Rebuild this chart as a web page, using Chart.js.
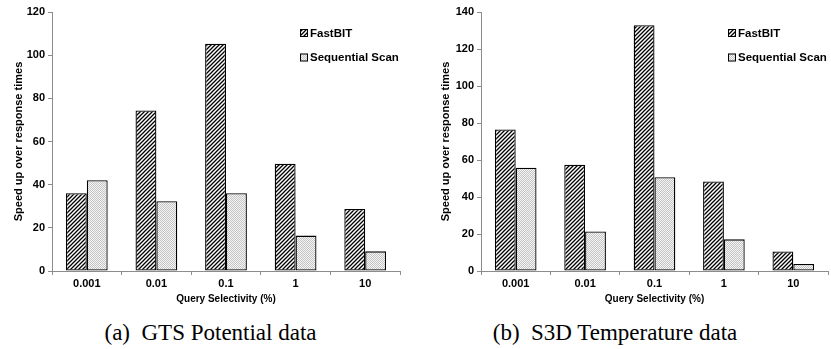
<!DOCTYPE html>
<html>
<head>
<meta charset="utf-8">
<script src="https://cdn.jsdelivr.net/npm/chart.js@4/dist/chart.umd.min.js"></script>
<style>
  body { margin: 0; background: #fff; width: 831px; height: 349px; overflow: hidden; }
  .panel { position: absolute; top: 0; height: 349px; }
  .cap { position: absolute; top: 320px; width: 100%; text-align: center; line-height: 26px;
         font-family: "Liberation Serif", "Times New Roman", serif; font-size: 23px; color: #000; }
</style>
</head>
<body>
<div class="panel" style="left:0;width:415px">
  <canvas id="chartA" width="415" height="305"></canvas>
  <div class="cap" style="left:3px">(a)&nbsp; GTS Potential data</div>
</div>
<div class="panel" style="left:415px;width:416px">
  <canvas id="chartB" width="416" height="305"></canvas>
  <div class="cap" style="left:-8px">(b)&nbsp; S3D Temperature data</div>
</div>
<script>
let categories = ["0.001", "0.01", "0.1", "1", "10"];
let seriesNames = ["FastBIT", "Sequential Scan"];
let gtsFastbit = [36, 74.4, 105.3, 49.7, 28.7];
let gtsSeqScan = [42.1, 32.3, 36, 16.4, 9.1];
let s3dFastbit = [76.5, 57.4, 132.8, 48.4, 10.6];
let s3dSeqScan = [55.8, 21.4, 50.7, 17.1, 3.8];

let font = "Liberation Sans, Arial, sans-serif";

// hatch pattern ////
function makeHatch() {
  let c = document.createElement("canvas");
  c.width = 4;
  c.height = 4;
  let g = c.getContext("2d");
  g.fillStyle = "#fff";
  g.fillRect(0, 0, 4, 4);
  g.strokeStyle = "#000";
  g.lineWidth = 1.3;
  g.beginPath();
  g.moveTo(-1, 5); g.lineTo(5, -1);
  g.moveTo(-1, 1); g.lineTo(1, -1);
  g.moveTo(3, 5); g.lineTo(5, 3);
  g.stroke();
  return g.createPattern(c, "repeat");
}

// light checker stipple
function makeDots() {
  let c = document.createElement("canvas");
  c.width = 2;
  c.height = 2;
  let g = c.getContext("2d");
  g.fillStyle = "#f5f5f5";
  g.fillRect(0, 0, 2, 2);
  g.fillStyle = "#c4c4c4";
  g.fillRect(0, 0, 1, 1);
  g.fillRect(1, 1, 1, 1);
  return g.createPattern(c, "repeat");
}

let hatch = makeHatch();
let dots = makeDots();

// legend drawn inside the plot, stacked
let insideLegend = {
  id: "insideLegend",
  afterDraw(chart, args, opts) {
    let ctx = chart.ctx;
    ctx.save();
    ctx.font = "bold 11.5px " + font;
    ctx.textBaseline = "middle";
    chart.data.datasets.forEach((ds, i) => {
      let y = opts.y + i * 24.5;
      ctx.fillStyle = ds.backgroundColor;
      ctx.fillRect(opts.x, y - 4, 8, 8);
      ctx.strokeStyle = "#000";
      ctx.lineWidth = 1;
      ctx.strokeRect(opts.x + 0.5, y - 3.5, 7, 7);
      ctx.fillStyle = "#000";
      ctx.fillText(ds.label, opts.x + 10, y + 0.5);
    });
    ctx.restore();
  }
};

function makeChart(id, fast, seq, yMax, padLeft, yWidth, padRight, legendX) {
  return new Chart(document.getElementById(id), {
    type: "bar",
    data: {
      labels: categories,
      datasets: [
        {
          label: seriesNames[0],
          data: fast,
          backgroundColor: hatch,
          borderColor: "#000",
          borderWidth: 1.3,
          borderSkipped: false
        },
        {
          label: seriesNames[1],
          data: seq,
          backgroundColor: dots,
          borderColor: "#000",
          borderWidth: 1.3,
          borderSkipped: false
        }
      ]
    },
    options: {
      responsive: false,
      animation: false,
      layout: { padding: { top: 12, right: padRight, left: padLeft, bottom: 0 } },
      plugins: {
        legend: { display: false },
        tooltip: { enabled: false },
        insideLegend: { x: legendX, y: 33 }
      },
      datasets: {
        bar: { categoryPercentage: 0.6, barPercentage: 1 }
      },
      scales: {
        x: {
          grid: { drawOnChartArea: false, color: "#8c8c8c", tickLength: 4 },
          border: { color: "#8c8c8c" },
          ticks: { color: "#000", font: { family: font, size: 11, weight: "bold" }, padding: 2 },
          title: {
            display: true,
            text: "Query Selectivity (%)",
            color: "#000",
            font: { family: font, size: 10, weight: "bold" },
            padding: { top: 0, bottom: 0 }
          },
          afterFit(scale) { scale.height = 34; }
        },
        y: {
          min: 0,
          max: yMax,
          grid: { drawOnChartArea: false, color: "#8c8c8c", tickLength: 4 },
          border: { color: "#8c8c8c" },
          ticks: { stepSize: 20, color: "#000", font: { family: font, size: 11, weight: "bold" }, padding: 3 },
          title: {
            display: true,
            text: "Speed up over response times",
            color: "#000",
            font: { family: font, size: 11, weight: "bold" },
            padding: { top: 0, bottom: 4 }
          },
          afterFit(scale) { scale.width = yWidth; }
        }
      }
    },
    plugins: [insideLegend]
  });
}

makeChart("chartA", gtsFastbit, gtsSeqScan, 120, 12, 40, 15, 300);
makeChart("chartB", s3dFastbit, s3dSeqScan, 140, 24, 42, 3, 313);
</script>
</body>
</html>
